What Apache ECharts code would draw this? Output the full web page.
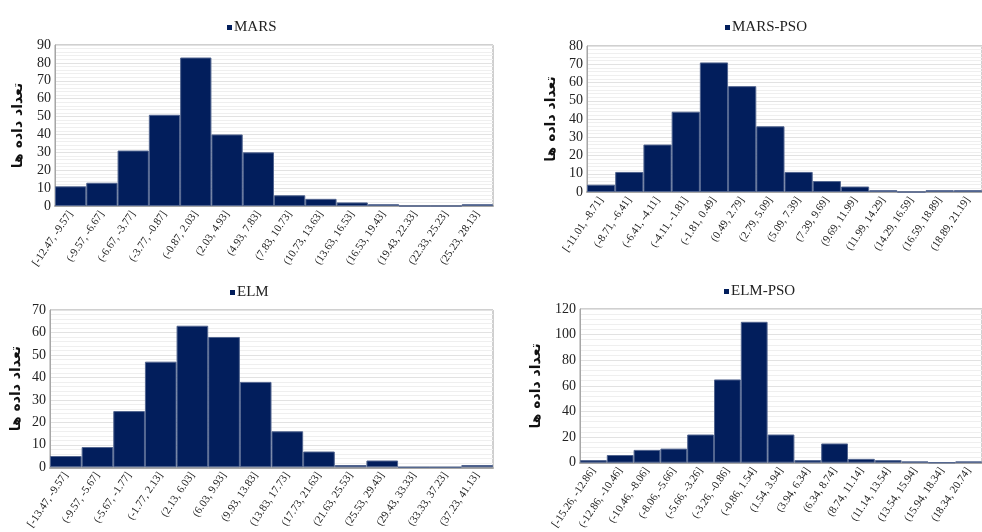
<!DOCTYPE html>
<html>
<head>
<meta charset="utf-8">
<script src="https://cdn.jsdelivr.net/npm/echarts@6/dist/echarts.min.js"></script>
<style>
  html, body { margin: 0; padding: 0; background: #ffffff; }
  #chart { width: 982px; height: 532px; }
</style>
</head>
<body>
<div id="chart"></div>
<script>
// Histogram bins (error intervals) and counts for each model
const marsBins = ['[-12.47, -9.57]', '(-9.57, -6.67]', '(-6.67, -3.77]', '(-3.77, -0.87]', '(-0.87, 2.03]',
  '(2.03, 4.93]', '(4.93, 7.83]', '(7.83, 10.73]', '(10.73, 13.63]', '(13.63, 16.53]', '(16.53, 19.43]',
  '(19.43, 22.33]', '(22.33, 25.23]', '(25.23, 28.13]'];
const marsCounts = [11, 13, 31, 51, 83, 40, 30, 6, 4, 2, 1, 0, 0, 1];

const marsPsoBins = ['[-11.01, -8.71]', '(-8.71, -6.41]', '(-6.41, -4.11]', '(-4.11, -1.81]', '(-1.81, 0.49]',
  '(0.49, 2.79]', '(2.79, 5.09]', '(5.09, 7.39]', '(7.39, 9.69]', '(9.69, 11.99]', '(11.99, 14.29]',
  '(14.29, 16.59]', '(16.59, 18.89]', '(18.89, 21.19]'];
const marsPsoCounts = [4, 11, 26, 44, 71, 58, 36, 11, 6, 3, 1, 0, 1, 1];

const elmBins = ['[-13.47, -9.57]', '(-9.57, -5.67]', '(-5.67, -1.77]', '(-1.77, 2.13]', '(2.13, 6.03]',
  '(6.03, 9.93]', '(9.93, 13.83]', '(13.83, 17.73]', '(17.73, 21.63]', '(21.63, 25.53]', '(25.53, 29.43]',
  '(29.43, 33.33]', '(33.33, 37.23]', '(37.23, 41.13]'];
const elmCounts = [5, 9, 25, 47, 63, 58, 38, 16, 7, 1, 3, 0, 0, 1];

const elmPsoBins = ['[-15.26, -12.86]', '(-12.86, -10.46]', '(-10.46, -8.06]', '(-8.06, -5.66]', '(-5.66, -3.26]',
  '(-3.26, -0.86]', '(-0.86, 1.54]', '(1.54, 3.94]', '(3.94, 6.34]', '(6.34, 8.74]', '(8.74, 11.14]',
  '(11.14, 13.54]', '(13.54, 15.94]', '(15.94, 18.34]', '(18.34, 20.74]'];
const elmPsoCounts = [2, 6, 10, 11, 22, 65, 110, 22, 2, 15, 3, 2, 1, 0, 1];

const modelNames = ['MARS', 'MARS-PSO', 'ELM', 'ELM-PSO'];
const yMax = [90, 80, 70, 120];
const yStep = [10, 10, 10, 20];
const yTitle = 'تعداد داده ها';

const binsList = [marsBins, marsPsoBins, elmBins, elmPsoBins];
const countsList = [marsCounts, marsPsoCounts, elmCounts, elmPsoCounts];

// Panel placement (pixels)
const panels = [
  { left: 55,  top: 45,  width: 438, height: 161, legendX: 222, legendY: 15, nameGap: 30 },
  { left: 587, top: 46,  width: 402, height: 146, legendX: 720, legendY: 15, nameGap: 29 },
  { left: 50,  top: 310, width: 443, height: 164, legendX: 225, legendY: 280, nameGap: 27 },
  { left: 580, top: 309, width: 410, height: 161, legendX: 719, legendY: 279, nameGap: 37 }
];

const serif = '"Liberation Serif", "DejaVu Serif", serif';
const barColor = '#021e5c';

const option = {
  animation: false,
  backgroundColor: '#ffffff',
  legend: panels.map((p, i) => ({
    data: [modelNames[i]],
    left: p.legendX,
    top: p.legendY,
    icon: 'rect',
    itemWidth: 5,
    itemHeight: 5,
    itemGap: 4,
    selectedMode: false,
    itemStyle: { borderWidth: 0 },
    textStyle: { fontFamily: serif, fontSize: 15, color: '#222', padding: [0, 0, 0, -3] }
  })),
  grid: panels.map(p => ({
    left: p.left, top: p.top, width: p.width, height: p.height,
    show: true, borderColor: '#a0a0a0', borderWidth: 1, containLabel: false
  })),
  xAxis: panels.map((p, i) => ({
    type: 'category',
    gridIndex: i,
    data: binsList[i],
    axisTick: { show: false },
    axisLine: { show: true, lineStyle: { color: '#a6a6a6', width: 2 } },
    axisLabel: {
      interval: 0, rotate: 56, fontFamily: serif, fontSize: 11, color: '#222', margin: 6
    },
    splitLine: { show: false }
  })),
  yAxis: panels.map((p, i) => ({
    type: 'value',
    gridIndex: i,
    min: 0,
    max: yMax[i],
    interval: yStep[i],
    name: yTitle,
    nameLocation: 'middle',
    nameRotate: 90,
    nameGap: p.nameGap,
    nameTextStyle: { fontFamily: '"DejaVu Sans", sans-serif', fontWeight: 'bold', fontSize: 14, color: '#111' },
    axisLine: { show: true, lineStyle: { color: '#a6a6a6', width: 1 } },
    axisTick: { show: false },
    axisLabel: { fontFamily: serif, fontSize: 14, color: '#222', margin: 4 },
    splitLine: { show: true, lineStyle: { color: '#e2e2e2', width: 1 } },
    minorTick: { show: false, splitNumber: 5 },
    minorSplitLine: { show: true, lineStyle: { color: '#efefef', width: 1 } }
  })),
  series: panels.map((p, i) => ({
    name: modelNames[i],
    type: 'bar',
    xAxisIndex: i,
    yAxisIndex: i,
    data: countsList[i],
    barCategoryGap: '0%',
    itemStyle: { color: barColor, borderColor: '#52658f', borderWidth: 1 }
  }))
};

const chart = echarts.init(document.getElementById('chart'), null, { renderer: 'canvas' });
chart.setOption(option);
</script>
</body>
</html>
